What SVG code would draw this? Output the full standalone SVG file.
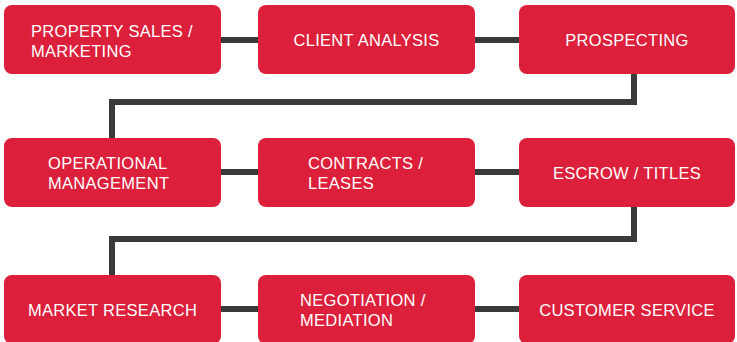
<svg xmlns="http://www.w3.org/2000/svg" width="737" height="342" viewBox="0 0 737 342">
<style>
.box{fill:#DC1F3B}
.t{fill:#fff;font-family:"Liberation Sans",Arial,sans-serif;font-size:16.5px;letter-spacing:0.3px}
.c{text-anchor:middle}
.ln{fill:none;stroke:#3A3A3A;stroke-width:6}
</style>
<rect width="737" height="342" fill="#fff"/>
<g id="connectors">
<line class="ln" x1="220" y1="40" x2="260" y2="40"/>
<line class="ln" x1="473" y1="40" x2="520" y2="40"/>
<polyline class="ln" points="634,73 634,102 112,102 112,139"/>
<line class="ln" x1="220" y1="172" x2="260" y2="172"/>
<line class="ln" x1="473" y1="172" x2="520" y2="172"/>
<polyline class="ln" points="634,206 634,239 112,239 112,276"/>
<line class="ln" x1="220" y1="309" x2="260" y2="309"/>
<line class="ln" x1="473" y1="309" x2="520" y2="309"/>
</g>
<g id="n1"><rect class="box" x="4" y="5" width="217" height="69" rx="8"/><text class="t" x="31" y="37">PROPERTY SALES /</text><text class="t" x="31" y="57">MARKETING</text></g>
<g id="n2"><rect class="box" x="258" y="5" width="217" height="69" rx="8"/><text class="t c" x="366.5" y="46">CLIENT ANALYSIS</text></g>
<g id="n3"><rect class="box" x="519" y="5" width="216" height="69" rx="8"/><text class="t c" x="627" y="46">PROSPECTING</text></g>
<g id="n4"><rect class="box" x="4" y="138" width="217" height="69" rx="8"/><text class="t" x="48" y="169">OPERATIONAL</text><text class="t" x="48" y="189">MANAGEMENT</text></g>
<g id="n5"><rect class="box" x="258" y="138" width="217" height="69" rx="8"/><text class="t" x="308" y="169">CONTRACTS /</text><text class="t" x="308" y="189">LEASES</text></g>
<g id="n6"><rect class="box" x="519" y="138" width="216" height="69" rx="8"/><text class="t c" x="627" y="179">ESCROW / TITLES</text></g>
<g id="n7"><rect class="box" x="4" y="275" width="217" height="69" rx="8"/><text class="t c" x="112.5" y="316">MARKET RESEARCH</text></g>
<g id="n8"><rect class="box" x="258" y="275" width="217" height="69" rx="8"/><text class="t" x="300" y="306">NEGOTIATION /</text><text class="t" x="300" y="326">MEDIATION</text></g>
<g id="n9"><rect class="box" x="519" y="275" width="216" height="69" rx="8"/><text class="t c" x="627" y="316">CUSTOMER SERVICE</text></g>
</svg>
